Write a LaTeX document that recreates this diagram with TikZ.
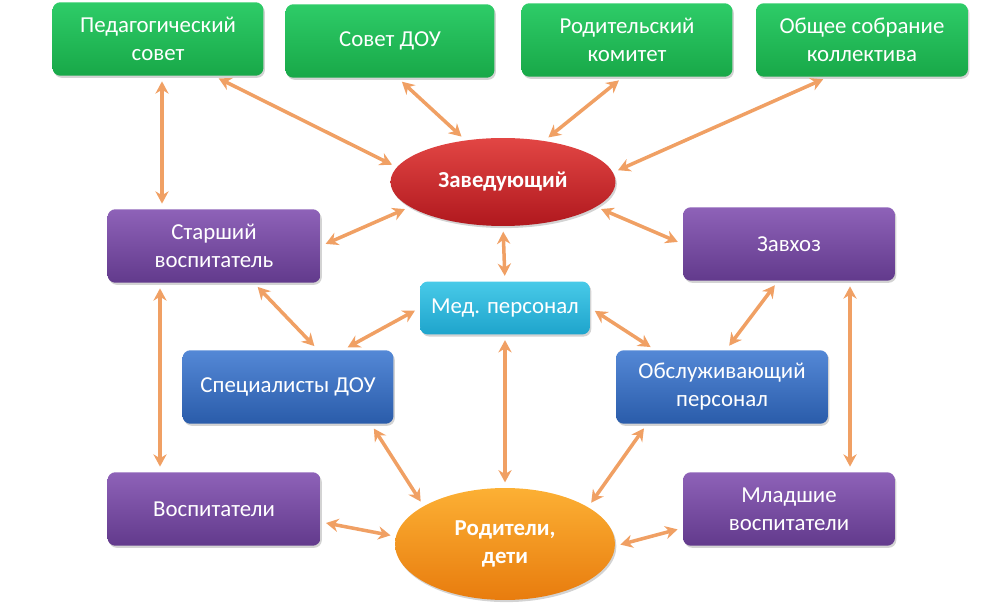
\documentclass[tikz,border=0pt]{standalone}
\usepackage{fontspec}
\setmainfont{Carlito}
\usetikzlibrary{arrows.meta,calc,shapes.geometric,shadows}
\definecolor{grtop}{RGB}{46,204,104}
\definecolor{grbot}{RGB}{24,168,72}
\definecolor{rdtop}{RGB}{226,70,68}
\definecolor{rdbot}{RGB}{176,24,30}
\definecolor{pptop}{RGB}{142,98,184}
\definecolor{ppbot}{RGB}{98,58,140}
\definecolor{bltop}{RGB}{84,136,214}
\definecolor{blbot}{RGB}{42,92,170}
\definecolor{cytop}{RGB}{72,202,232}
\definecolor{cybot}{RGB}{30,164,204}
\definecolor{ortop}{RGB}{252,176,52}
\definecolor{orbot}{RGB}{232,124,14}
\definecolor{arr}{RGB}{240,160,100}
\begin{document}
\begin{tikzpicture}[x=0.02cm,y=-0.02cm,
    box/.style={rectangle,rounded corners=4.5pt,text=white,align=center,font=\fontsize{13}{16}\selectfont,
      minimum width=4.22cm,minimum height=1.47cm,inner sep=2pt,
      drop shadow={opacity=0.35,shadow xshift=0.8pt,shadow yshift=-1.2pt}},
    grbox/.style={box,top color=grtop,bottom color=grbot},
    ppbox/.style={box,top color=pptop,bottom color=ppbot},
    blbox/.style={box,top color=bltop,bottom color=blbot},
    oval/.style={ellipse,text=white,align=center,font=\bfseries\fontsize{13}{16}\selectfont,inner sep=0pt,
      drop shadow={opacity=0.35,shadow xshift=0.8pt,shadow yshift=-1.2pt}},
    link/.style={{Stealth[length=7pt,width=7.5pt]}-{Stealth[length=7pt,width=7.5pt]},draw=arr,line width=2pt,
      shorten <=3pt,shorten >=3pt}]
  \useasboundingbox (0,0) rectangle (1000,607);
  \node[grbox] (ped) at (158,39) {Педагогический\\совет};
  \node[grbox,minimum width=4.18cm] (sov) at (390,41) {Совет ДОУ};
  \node[grbox] (kom) at (627,40) {Родительский\\комитет};
  \node[grbox,minimum width=4.24cm] (obsh) at (862,40) {Общее собрание\\коллектива};
  \node[oval,top color=rdtop,bottom color=rdbot,minimum width=4.5cm,minimum height=1.76cm] (zav) at (503,182) {Заведующий};
  \node[ppbox,minimum width=4.26cm] (star) at (214,246) {Старший\\воспитатель};
  \node[ppbox,minimum width=4.24cm] (zavhoz) at (789,244) {Завхоз};
  \node[box,top color=cytop,bottom color=cybot,minimum width=3.4cm,minimum height=1.06cm] (med) at (505,308) {Мед. персонал};
  \node[blbox] (spec) at (288,387) {Специалисты ДОУ};
  \node[blbox,minimum width=4.24cm] (obsl) at (722,387) {Обслуживающий\\персонал};
  \node[ppbox,minimum width=4.26cm] (vosp) at (214,509) {Воспитатели};
  \node[ppbox,minimum width=4.24cm] (mlad) at (789,509) {Младшие\\воспитатели};
  \node[oval,top color=ortop,bottom color=orbot,minimum width=4.4cm,minimum height=2.24cm] (rod) at (505,544) {Родители,\\дети};
  \draw[link] ($(ped.south)+(4,0)$) -- ($(star.north)+(-52,0)$);
  \draw[link] ($(ped.south)+(56,0)$) -- (zav.172);
  \draw[link] ($(sov.south)+(8,0)$) -- (zav.132);
  \draw[link] ($(kom.south)+(-4,0)$) -- (zav.45);
  \draw[link] ($(obsh.south)+(-34,0)$) -- (zav.5);
  \draw[link] (zav.195) -- (star.east);
  \draw[link] (zav.-15) -- (zavhoz.west);
  \draw[link] (zav.south) -- (med.north);
  \draw[link] ($(star.south)+(40,0)$) -- ($(spec.north)+(30,0)$);
  \draw[link] (med.west) -- ($(spec.north)+(55,0)$);
  \draw[link] (med.east) -- ($(obsl.north)+(-67,0)$);
  \draw[link] ($(zavhoz.south)+(-11,0)$) -- ($(obsl.north)+(4,0)$);
  \draw[link] (med.south) -- (rod.north);
  \draw[link] ($(star.south)+(-54,0)$) -- ($(vosp.north)+(-54,0)$);
  \draw[link] ($(zavhoz.south)+(61,0)$) -- ($(mlad.north)+(61,0)$);
  \draw[link] ($(spec.south)+(83,0)$) -- (rod.155);
  \draw[link] ($(obsl.south)+(-75,0)$) -- (rod.24);
  \draw[link] ($(vosp.east)+(0,13)$) -- (rod.176);
  \draw[link] ($(mlad.west)+(0,19)$) -- (rod.-1);
\end{tikzpicture}
\end{document}
